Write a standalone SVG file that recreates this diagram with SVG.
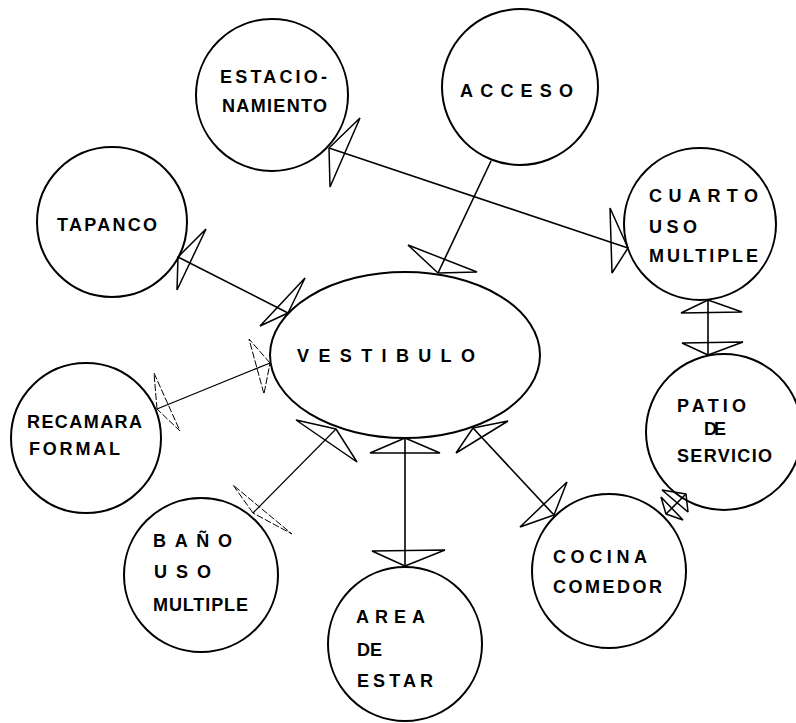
<svg xmlns="http://www.w3.org/2000/svg" width="796" height="723" viewBox="0 0 796 723">
<style>
.n{fill:none;stroke:#000;stroke-width:2}
.t{font-family:"Liberation Sans",Arial,sans-serif;font-weight:bold;font-size:18px;fill:#000}
.c line{stroke:#000;stroke-width:1.6}
.c polygon{fill:none;stroke:#000;stroke-width:1.5;stroke-linejoin:bevel}
.f line{stroke-width:1.2}
.f polygon{stroke-width:1;stroke-dasharray:7 2}
</style>
<rect width="796" height="723" fill="#fff"/>
<g id="estacionamiento"><circle class="n" cx="272" cy="95" r="76"/><text class="t" x="220" y="83" textLength="107" lengthAdjust="spacing">ESTACIO-</text><text class="t" x="222" y="112" textLength="105" lengthAdjust="spacing">NAMIENTO</text></g>
<g id="acceso"><circle class="n" cx="520" cy="87" r="78"/><text class="t" x="460" y="97" textLength="113" lengthAdjust="spacing">ACCESO</text></g>
<g id="tapanco"><circle class="n" cx="112" cy="222" r="75"/><text class="t" x="57" y="231" textLength="100" lengthAdjust="spacing">TAPANCO</text></g>
<g id="vestibulo"><ellipse class="n" cx="405" cy="355" rx="135" ry="83"/><text class="t" x="297" y="362" textLength="178" lengthAdjust="spacing">VESTIBULO</text></g>
<g id="cuarto"><circle class="n" cx="700" cy="224" r="76"/><text class="t" x="649" y="202" textLength="109" lengthAdjust="spacing">CUARTO</text><text class="t" x="649" y="233" textLength="48" lengthAdjust="spacing">USO</text><text class="t" x="649" y="262" textLength="109" lengthAdjust="spacing">MULTIPLE</text></g>
<g id="patio"><circle class="n" cx="724" cy="432" r="78"/><text class="t" x="677" y="412" textLength="69" lengthAdjust="spacing">PATIO</text><text class="t" x="704" y="435" textLength="22" lengthAdjust="spacing">DE</text><text class="t" x="677" y="462" textLength="95" lengthAdjust="spacing">SERVICIO</text></g>
<g id="recamara"><circle class="n" cx="86" cy="438" r="75"/><text class="t" x="27" y="428" textLength="115" lengthAdjust="spacing">RECAMARA</text><text class="t" x="29" y="455" textLength="91" lengthAdjust="spacing">FORMAL</text></g>
<g id="bano"><circle class="n" cx="201" cy="575" r="77" stroke-width="1.4"/><text class="t" x="153" y="547" textLength="79" lengthAdjust="spacing">BAÑO</text><text class="t" x="154" y="578" textLength="57" lengthAdjust="spacing">USO</text><text class="t" x="153" y="611" textLength="95" lengthAdjust="spacing">MULTIPLE</text></g>
<g id="area"><circle class="n" cx="405" cy="644" r="77"/><text class="t" x="356" y="623" textLength="69" lengthAdjust="spacing">AREA</text><text class="t" x="357" y="656" textLength="25" lengthAdjust="spacing">DE</text><text class="t" x="357" y="687" textLength="76" lengthAdjust="spacing">ESTAR</text></g>
<g id="cocina"><circle class="n" cx="609" cy="571" r="77"/><text class="t" x="553" y="563" textLength="94" lengthAdjust="spacing">COCINA</text><text class="t" x="553" y="593" textLength="109" lengthAdjust="spacing">COMEDOR</text></g>
<g id="connectors" class="c">
<line x1="491" y1="161" x2="438" y2="273"/>
<polygon points="438,273 408,245 477,272"/>
<line x1="329" y1="148" x2="628" y2="248"/>
<polygon points="329,148 360,118 330,187"/>
<polygon points="628,248 610,208 612,273"/>
<line x1="178" y1="257" x2="288" y2="313"/>
<polygon points="178,257 206,229 177,290"/>
<polygon points="288,313 305,278 260,326"/>
<g class="f"><line x1="157" y1="409" x2="270" y2="363"/>
<polygon points="157,409 154,373 180,431"/>
<polygon points="270,363 249,339 264,394"/>
<line x1="253" y1="513" x2="336" y2="429"/>
<polygon points="253,513 233,485 292,534"/></g>
<polygon points="336,429 296,420 357,462"/>
<line x1="405" y1="438" x2="405" y2="566"/>
<polygon points="405,438 370,453 440,453"/>
<polygon points="405,566 372,551 445,550"/>
<line x1="473" y1="428" x2="554" y2="515"/>
<polygon points="473,428 508,421 456,453"/>
<polygon points="554,515 567,482 520,527"/>
<line x1="708" y1="300" x2="708" y2="355"/>
<polygon points="708,300 681,313 742,312"/>
<polygon points="708,355 682,343 743,342"/>
<line x1="666" y1="514" x2="686" y2="494"/>
<polygon points="686,494 662,490 688,512"/>
<polygon points="666,514 661,497 683,520"/>
</g>
</svg>
